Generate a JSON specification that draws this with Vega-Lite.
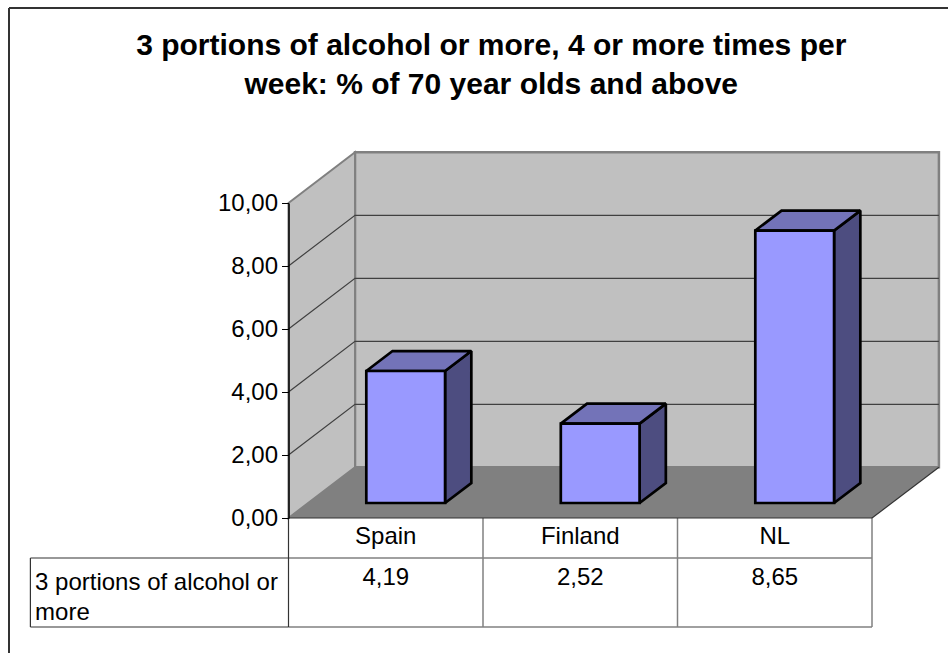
{
"$schema":"https://vega.github.io/schema/vega-lite/v6.json",
"autosize":{"type":"none"},
"padding":{"left":288.5,"top":203,"right":76,"bottom":135},
"width":583.5,"height":315,
"background":"white",
"config":{"view":{"stroke":null},"font":"Liberation Sans","locale":{"number":{"decimal":",","thousands":".","grouping":[3],"currency":["","€"]}}},
"title":{"text":["3 portions of alcohol or more, 4 or more times per","week: % of 70 year olds and above"],"anchor":"middle","dx":-89,"offset":-92.5,"fontSize":30,"fontWeight":"bold","lineHeight":38.5,"color":"black","font":"Liberation Sans"},
"datasets":{
"bars":[{"country":"Spain","value":4.19,"x":0.4,"x2":0.805,"mid":0.5,"rowA":-0.61,"rowB":-1.9},{"country":"Finland","value":2.52,"x":1.4,"x2":1.805,"mid":1.5,"rowA":-0.61,"rowB":-1.9},{"country":"NL","value":8.65,"x":2.4,"x2":2.805,"mid":2.5,"rowA":-0.61,"rowB":-1.9}],
"sides":[{"country":"Spain","x":0.805,"y":4.666,"y2":0.476},{"country":"Spain","x":0.94,"y":5.3,"y2":1.11},{"country":"Finland","x":1.805,"y":2.996,"y2":0.476},{"country":"Finland","x":1.94,"y":3.63,"y2":1.11},{"country":"NL","x":2.805,"y":9.126,"y2":0.476},{"country":"NL","x":2.94,"y":9.76,"y2":1.11}],
"tops":[{"country":"Spain","y":4.666,"x":0.4,"x2":0.805},{"country":"Spain","y":5.3,"x":0.535,"x2":0.94},{"country":"Finland","y":2.996,"x":1.4,"x2":1.805},{"country":"Finland","y":3.63,"x":1.535,"x2":1.94},{"country":"NL","y":9.126,"x":2.4,"x2":2.805},{"country":"NL","y":9.76,"x":2.535,"x2":2.94}],
"grid":[{"g":2,"x":0,"y":2},{"g":2,"x":0.342,"y":3.61},{"g":2,"x":3.344,"y":3.61},{"g":4,"x":0,"y":4},{"g":4,"x":0.342,"y":5.61},{"g":4,"x":3.344,"y":5.61},{"g":6,"x":0,"y":6},{"g":6,"x":0.342,"y":7.61},{"g":6,"x":3.344,"y":7.61},{"g":8,"x":0,"y":8},{"g":8,"x":0.342,"y":9.61},{"g":8,"x":3.344,"y":9.61}],
"darkLines":[{"x":0,"x2":3,"y":0,"y2":0},{"x":3,"x2":3.344,"y":0,"y2":1.61},{"x":-1.327,"x2":0,"y":-1.27,"y2":-1.27},{"x":-1.327,"x2":0,"y":-3.46,"y2":-3.46},{"x":-1.327,"x2":-1.327,"y":-1.27,"y2":-3.46},{"x":0,"x2":0,"y":0,"y2":-3.46}],
"frameLines":[{"x":-1.437,"x2":-1.437,"y":16.19,"y2":-4.5},{"x":-1.437,"x2":3.6,"y":16.19,"y2":16.19}],
"greyLines":[{"x":0,"x2":3,"y":-1.27,"y2":-1.27},{"x":0,"x2":3,"y":-3.46,"y2":-3.46},{"x":1,"x2":1,"y":0,"y2":-3.46},{"x":2,"x2":2,"y":0,"y2":-3.46},{"x":3,"x2":3,"y":0,"y2":-3.46}]
},
"encoding":{
"x":{"field":"x","type":"quantitative","scale":{"domain":[0,3],"nice":false,"zero":false},"axis":null},
"y":{"field":"y","type":"quantitative","scale":{"domain":[0,10],"nice":false,"zero":false},"axis":{"values":[0,2,4,6,8,10],"format":".2f","title":null,"grid":false,"domainColor":"black","domainWidth":1.5,"tickColor":"black","tickSize":7,"tickWidth":1,"labelPadding":4,"labelFontSize":24,"labelColor":"black","labelFont":"Liberation Sans","zindex":1}}
},
"layer":[
{"data":{"values":[{"x":0.342,"x2":3.344,"y":11.61,"y2":1.61}]},"mark":{"type":"rect","fill":"#c0c0c0","stroke":"#808080","strokeWidth":2.5},
 "encoding":{"x2":{"field":"x2"},"y2":{"field":"y2"}}},
{"data":{"values":[{"x":0,"y":10,"y2":0},{"x":0.342,"y":11.61,"y2":1.61}]},"mark":{"type":"area","fill":"#c0c0c0","stroke":"#808080","strokeWidth":2},
 "encoding":{"y2":{"field":"y2"}}},
{"data":{"values":[{"y":0,"x":0,"x2":3},{"y":1.61,"x":0.342,"x2":3.344}]},"mark":{"type":"area","orient":"horizontal","fill":"#808080"},
 "encoding":{"x2":{"field":"x2"}}},
{"data":{"name":"grid"},"mark":{"type":"line","stroke":"#404040","strokeWidth":1.2},
 "encoding":{"detail":{"field":"g"},"order":{"field":"x","type":"quantitative"}}},
{"data":{"name":"greyLines"},"mark":{"type":"rule","stroke":"#808080","strokeWidth":1.5},
 "encoding":{"x2":{"field":"x2"},"y2":{"field":"y2"}}},
{"data":{"name":"darkLines"},"mark":{"type":"rule","stroke":"#333333","strokeWidth":1.2},
 "encoding":{"x2":{"field":"x2"},"y2":{"field":"y2"}}},
{"data":{"name":"frameLines"},"mark":{"type":"rule","stroke":"#333333","strokeWidth":2},
 "encoding":{"x2":{"field":"x2"},"y2":{"field":"y2"}}},
{"data":{"name":"sides"},"mark":{"type":"area","fill":"#4d4d80","stroke":"black","strokeWidth":2.7,"strokeJoin":"miter","strokeMiterLimit":1.5},
 "encoding":{"y2":{"field":"y2"},"detail":{"field":"country"}}},
{"data":{"name":"tops"},"mark":{"type":"area","orient":"horizontal","fill":"#7373b8","stroke":"black","strokeWidth":2.7,"strokeJoin":"miter","strokeMiterLimit":1.5},
 "encoding":{"x2":{"field":"x2"},"detail":{"field":"country"}}},
{"data":{"name":"bars"},"mark":{"type":"rect","fill":"#9999ff","stroke":"black","strokeWidth":2.7,"yOffset":-15,"y2Offset":-15},
 "encoding":{"x2":{"field":"x2"},"y":{"field":"value","type":"quantitative"},"y2":{"datum":0}}},
{"data":{"name":"bars"},"mark":{"type":"text","fontSize":24,"fill":"black","align":"center","baseline":"middle"},
 "encoding":{"x":{"field":"mid","type":"quantitative"},"y":{"field":"rowA","type":"quantitative"},"text":{"field":"country"}}},
{"data":{"name":"bars"},"mark":{"type":"text","fontSize":24,"fill":"black","align":"center","baseline":"middle"},
 "encoding":{"x":{"field":"mid","type":"quantitative"},"y":{"field":"rowB","type":"quantitative"},"text":{"field":"value","type":"quantitative","format":".2f"}}},
{"data":{"values":[{"x":-1.303,"y":-2.06,"label":"3 portions of alcohol or\nmore"}]},"mark":{"type":"text","fontSize":24,"fill":"black","align":"left","baseline":"middle","lineBreak":"\n","lineHeight":30},
 "encoding":{"text":{"field":"label"}}}
]
}
